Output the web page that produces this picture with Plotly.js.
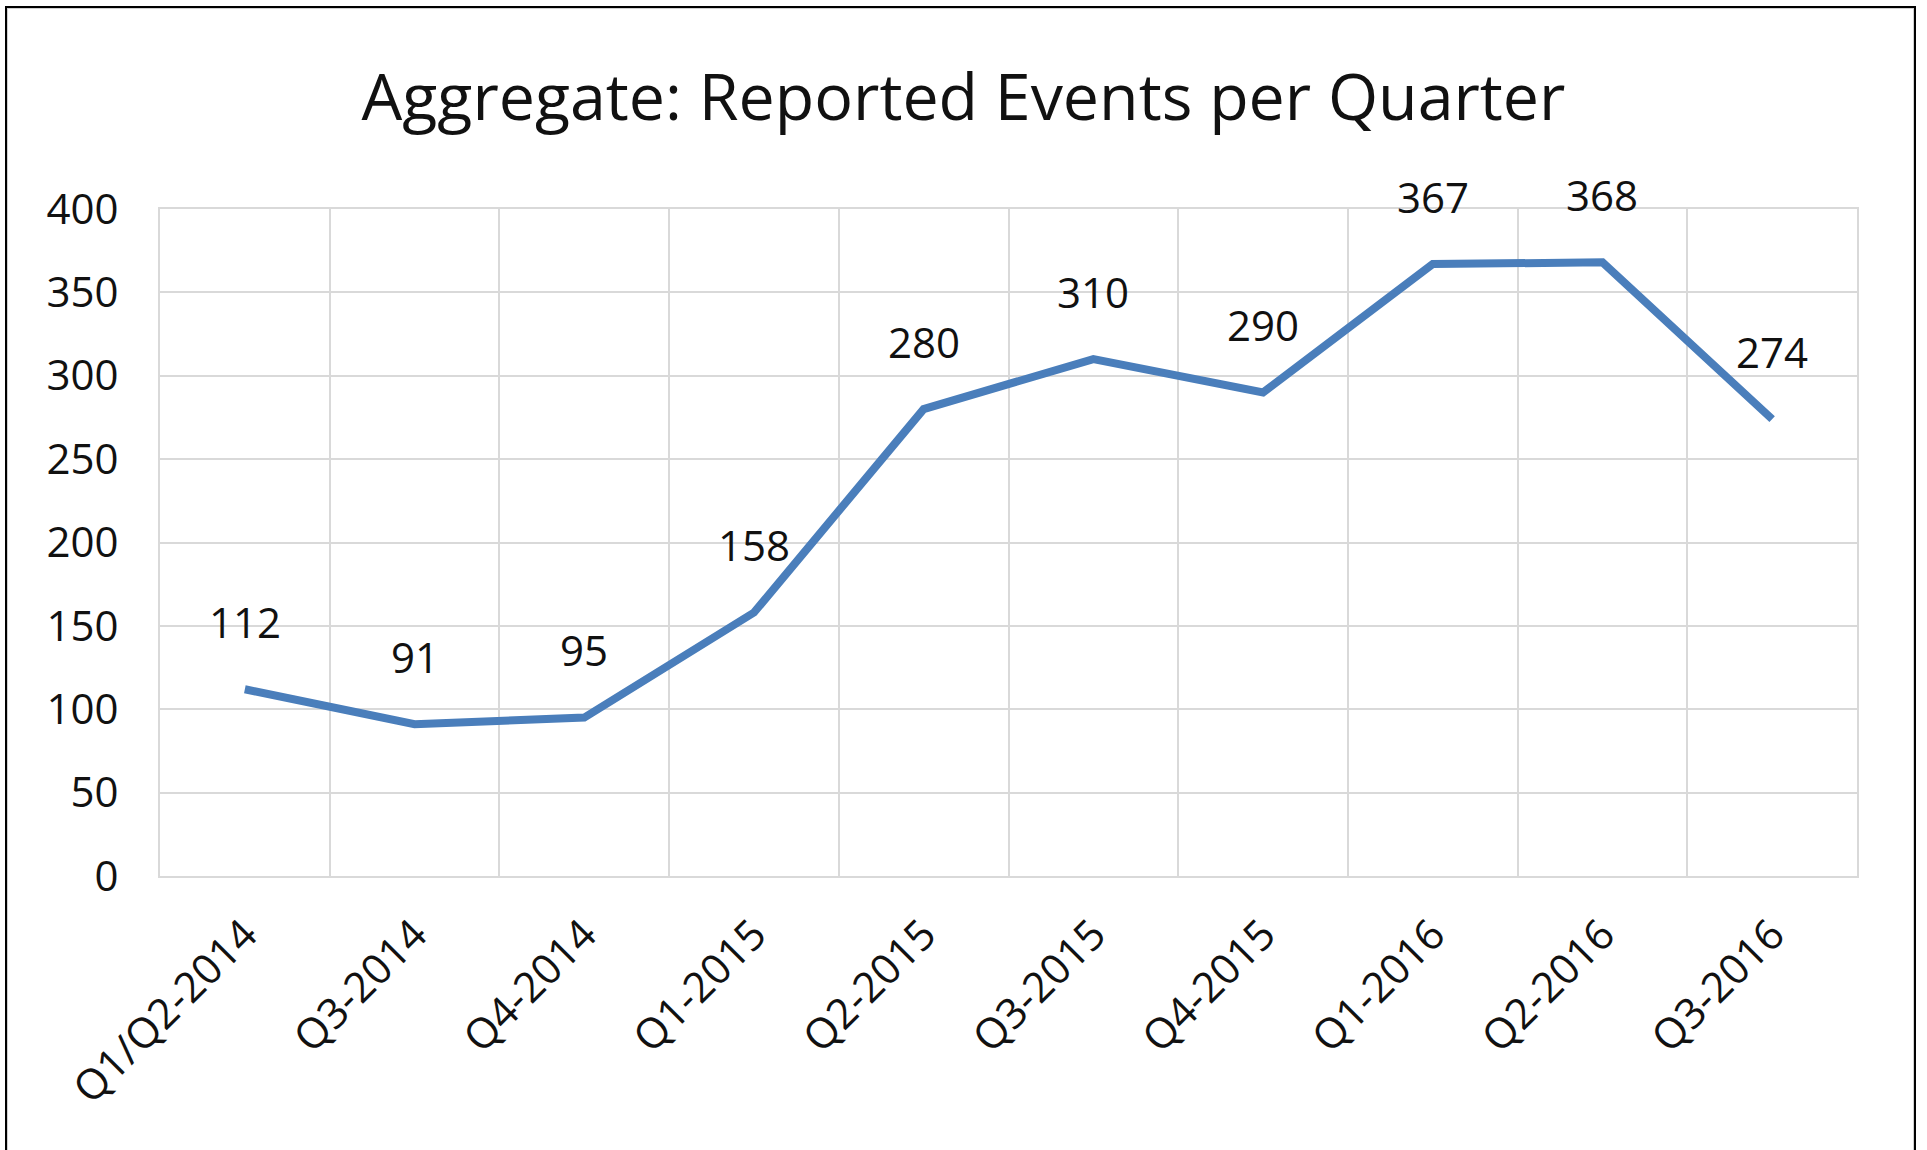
<!DOCTYPE html>
<html>
<head>
<meta charset="utf-8">
<script src="https://cdn.plot.ly/plotly-3.0.1.min.js"></script>
<style>
  html, body { margin: 0; padding: 0; background: #ffffff; }
  #chart { width: 1927px; height: 1150px; position: absolute; left: 0; top: 0; }
  #frame { position: absolute; left: 5px; top: 6px; width: 1911px; height: 1300px;
           border: 2px solid #000; box-sizing: border-box; pointer-events: none; }
  #frame2 { position: absolute; left: 7px; top: 8px; width: 1907px; height: 1300px;
           border: 1px solid #d0d0d0; box-sizing: border-box; pointer-events: none; }
</style>
</head>
<body>
<div id="chart"></div>
<div id="frame"></div>
<div id="frame2"></div>
<script>
const chartTitle = "Aggregate: Reported Events per Quarter";
const quarters = ["Q1/Q2-2014", "Q3-2014", "Q4-2014", "Q1-2015", "Q2-2015",
                  "Q3-2015", "Q4-2015", "Q1-2016", "Q2-2016", "Q3-2016"];
const events = [112, 91, 95, 158, 280, 310, 290, 367, 368, 274];
const yTicks = [0, 50, 100, 150, 200, 250, 300, 350, 400];

const FONT = "'Open Sans', 'Noto Sans', sans-serif";
const TXT = "#111111";

const trace = {
  type: "scatter",
  mode: "lines",
  x: quarters,
  y: events,
  line: { color: "#4A7EBB", width: 8 },
  hoverinfo: "x+y",
  showlegend: false
};

const annotations = quarters.map((q, i) => ({
  x: q, y: events[i], xref: "x", yref: "y",
  text: String(events[i]),
  showarrow: false,
  yanchor: "middle", xanchor: "center",
  yshift: 68,
  font: { family: FONT, size: 42, color: TXT }
}));

const layout = {
  width: 1927, height: 1150,
  margin: { l: 160, r: 70, t: 209, b: 274 },
  paper_bgcolor: "#ffffff",
  plot_bgcolor: "#ffffff",
  title: {
    text: chartTitle,
    x: 0.5, xref: "container", xanchor: "center",
    y: 1 - 120 / 1150, yref: "container", yanchor: "bottom",
    font: { family: FONT, size: 64.5, color: TXT }
  },
  xaxis: {
    type: "category",
    range: [-0.5, quarters.length - 0.5],
    tickson: "boundaries",
    showgrid: true, gridcolor: "#d9d9d9", gridwidth: 2,
    showline: true, linecolor: "#d9d9d9", linewidth: 2, mirror: true,
    ticks: "", tickangle: -45,
    ticklabelstandoff: 15,
    tickfont: { family: FONT, size: 42, color: TXT },
    zeroline: false, fixedrange: true
  },
  yaxis: {
    range: [0, 400],
    tickvals: yTicks,
    ticktext: yTicks.map(String),
    showgrid: true, gridcolor: "#d9d9d9", gridwidth: 2,
    showline: true, linecolor: "#d9d9d9", linewidth: 2, mirror: true,
    ticks: "",
    ticklabelstandoff: 31,
    tickfont: { family: FONT, size: 42, color: TXT },
    zeroline: false, fixedrange: true
  },
  annotations: annotations
};

Plotly.newPlot("chart", [trace], layout, { displayModeBar: false, staticPlot: true });
</script>
</body>
</html>
